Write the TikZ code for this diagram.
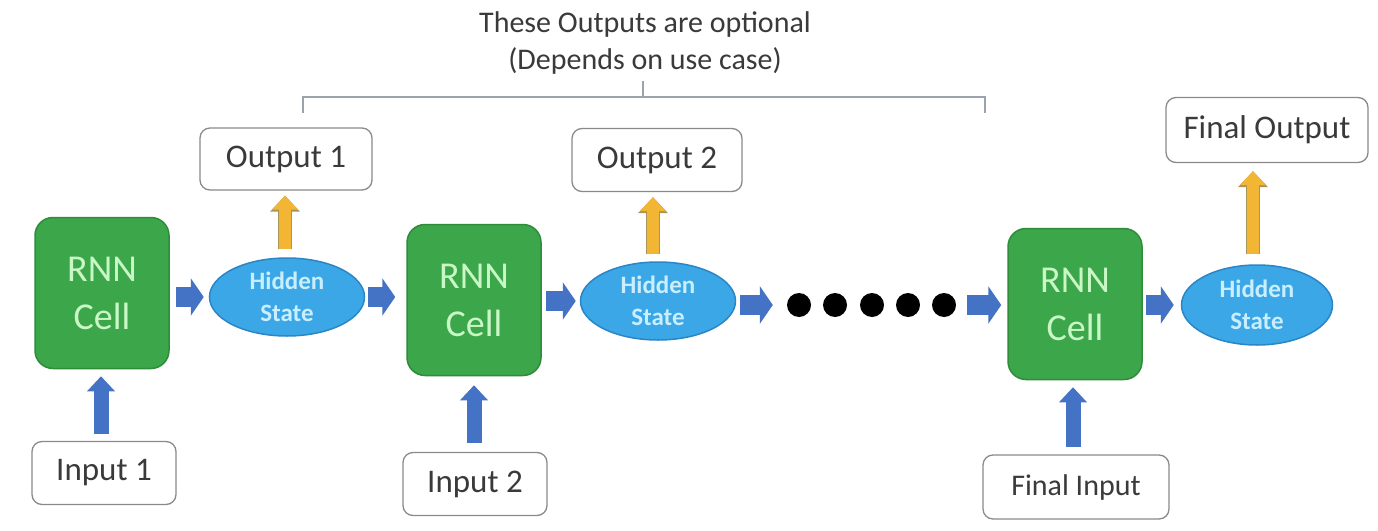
\documentclass[tikz,border=0pt]{standalone}
\usepackage{fontspec}
\setmainfont{Carlito}
\usetikzlibrary{arrows.meta,shapes.geometric}
\definecolor{cellgreen}{HTML}{3CA64A}
\definecolor{cellborder}{HTML}{2E8C3B}
\definecolor{rnntext}{HTML}{C9F7C6}
\definecolor{hsblue}{HTML}{3BA7E6}
\definecolor{hsborder}{HTML}{2A86C6}
\definecolor{hstext}{HTML}{C8EEFF}
\definecolor{arrowblue}{HTML}{4472C4}
\definecolor{arrowyellow}{HTML}{F2B634}
\definecolor{yellowborder}{HTML}{A8955A}
\definecolor{boxborder}{HTML}{8A8A8A}
\definecolor{labeltext}{HTML}{3A3A3A}
\definecolor{bracketgray}{HTML}{9AA3AE}
\tikzset{
  cellbox/.style={rectangle, rounded corners=18pt, fill=cellgreen, draw=cellborder, line width=1.5pt,
    minimum width=134pt, minimum height=151pt, align=center, text=rnntext,
    font=\fontsize{38}{48}\selectfont},
  hsnode/.style={ellipse, fill=hsblue, draw=hsborder, line width=1.5pt, inner sep=0pt,
    minimum width=155pt, minimum height=78pt, align=center, text=hstext,
    font=\fontsize{25}{32}\selectfont\bfseries},
  iobox/.style={rectangle, rounded corners=10pt, draw=boxborder, line width=1.3pt, fill=white,
    minimum height=63pt, text=labeltext, font=\fontsize{33}{40}\selectfont},
  dotnode/.style={circle, fill=black, inner sep=0pt, minimum size=24pt},
  blockh/.style={draw=arrowblue, line width=20pt, -{Triangle[length=13pt,width=37pt]}},
  blockv/.style={draw=arrowblue, line width=15pt, -{Triangle[length=15pt,width=27pt]}},
  blocky/.style={draw=arrowyellow, line width=12pt, -{Triangle[length=14pt,width=25pt]},
    preaction={draw=yellowborder, line width=14.5pt, -{Triangle[length=16pt,width=29pt]}}},
}
\begin{document}
\begin{tikzpicture}[x=1pt,y=-1pt]
\useasboundingbox (0,0) rectangle (1378,530);
\fill[white] (0,0) rectangle (1378,530);

% title and bracket
\node[text=labeltext, align=center, font=\fontsize{30}{37}\selectfont] (title) at (645,43)
  {These Outputs are optional\\(Depends on use case)};
\coordinate (bl) at (303,113);
\coordinate (br) at (985,113);
\coordinate (bt) at (643,81);
\draw[bracketgray, line width=1.5pt] (bl) -- (bl |- 0,97) -- (br |- 0,97) -- (br);
\draw[bracketgray, line width=1.5pt] (bt |- 0,97) -- (bt);

% cells
\node[cellbox] (cell1) at (102,293) {RNN\\Cell};
\node[cellbox] (cell2) at (474,300) {RNN\\Cell};
\node[cellbox] (cell3) at (1075,304) {RNN\\Cell};

% hidden states
\node[hsnode] (hs1) at (287,297) {Hidden\\State};
\node[hsnode] (hs2) at (658,301) {Hidden\\State};
\node[hsnode, minimum width=151pt, minimum height=80pt] (hs3) at (1257,305) {Hidden\\State};

% outputs
\node[iobox, minimum width=172pt, minimum height=62pt] (out1) at (286,159) {Output 1};
\node[iobox, minimum width=170pt] (out2) at (657,160) {Output 2};
\node[iobox, minimum width=202pt, minimum height=65pt] (out3) at (1267,130) {Final Output};

% inputs
\node[iobox, minimum width=144pt] (in1) at (104,473) {Input 1};
\node[iobox, minimum width=144pt] (in2) at (475,484) {Input 2};
\node[iobox, minimum width=186pt, minimum height=64pt, font=\fontsize{30}{36}\selectfont] (in3) at (1076,487) {Final Input};

% dots
\node[dotnode] (d1) at (799,305) {};
\node[dotnode] (d2) at (835,305) {};
\node[dotnode] (d3) at (872,305) {};
\node[dotnode] (d4) at (908,305) {};
\node[dotnode] (d5) at (944,305) {};

% horizontal blue arrows
\draw[blockh, shorten <=6pt, shorten >=5pt] (cell1.east |- hs1.west) -- (hs1.west);
\draw[blockh, shorten <=3pt, shorten >=11pt] (hs1.east) -- (hs1.east -| cell2.west);
\draw[blockh, shorten <=4pt, shorten >=4pt] (cell2.east |- hs2.west) -- (hs2.west);
\draw[blockh, shorten <=4pt, shorten >=14pt] (hs2.east |- d1.west) -- (d1.west);
\draw[blockh, shorten <=11pt, shorten >=6pt] (d5.east) -- (d5.east -| cell3.west);
\draw[blockh, shorten <=3pt, shorten >=7pt] (cell3.east |- hs3.west) -- (hs3.west);

% vertical blue arrows
\draw[blockv, shorten <=7pt, shorten >=7pt] ([xshift=-3pt]in1.north) -- ([xshift=-3pt]in1.north |- cell1.south);
\draw[blockv, shorten <=9pt, shorten >=9pt] ([xshift=-1pt]in2.north) -- ([xshift=-1pt]in2.north |- cell2.south);
\draw[blockv, shorten <=7pt, shorten >=7pt] ([xshift=-3pt]in3.north) -- ([xshift=-3pt]in3.north |- cell3.south);

% yellow arrows
\draw[blocky, shorten <=8pt, shorten >=5pt] ([xshift=-2pt]hs1.north) -- ([xshift=-2pt]hs1.north |- out1.south);
\draw[blocky, shorten <=7pt, shorten >=5pt] ([xshift=-5pt]hs2.north) -- ([xshift=-5pt]hs2.north |- out2.south);
\draw[blocky, shorten <=10pt, shorten >=8pt] ([xshift=-4pt]hs3.north) -- ([xshift=-4pt]hs3.north |- out3.south);
\end{tikzpicture}
\end{document}
